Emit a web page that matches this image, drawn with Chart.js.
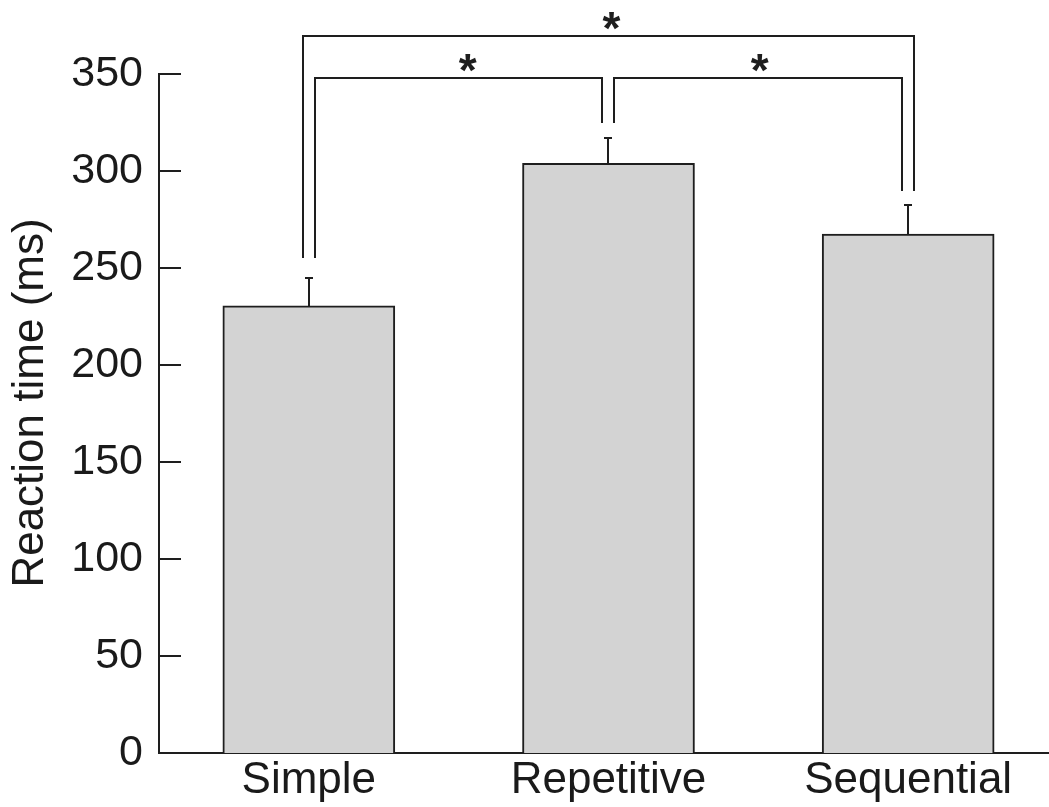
<!DOCTYPE html>
<html>
<head>
<meta charset="utf-8">
<script src="https://cdn.jsdelivr.net/npm/chart.js@4.4.1/dist/chart.umd.min.js"></script>
<style>
  html, body { margin: 0; padding: 0; background: #fff; }
  #wrap { width: 1049px; height: 807px; }
</style>
</head>
<body>
<div id="wrap"><canvas id="rt"></canvas></div>
<script>
// values
const categories = ["Simple", "Repetitive", "Sequential"];
const meanRT = [230.5, 304, 267.5];
const semRT = [14.5, 13, 15];
const yTickValues = [0, 50, 100, 150, 200, 250, 300, 350];

// significance brackets (category indices, level in ms)
const bracketFrom = [0, 1, 0];
const bracketTo = [1, 2, 2];
const bracketLevel = [348, 348, 369.5];
const bracketStarAt = [0.53, 1.505, 1.01];
const bracketLabel = ["*", "*", "*"];
const bracketFoot = [255, 324.8, 289.7];

const INK = "#1e1e1e";
const FONT = "'Liberation Sans', Arial, sans-serif";

const extras = {
  id: "extras",
  afterDraw(chart) {
    const ctx = chart.ctx;
    const x = chart.scales.x;
    const y = chart.scales.y;
    const area = chart.chartArea;
    const px = (v) => Math.round(x.getPixelForValue(v));
    const py = (v) => Math.round(y.getPixelForValue(v));
    ctx.save();
    ctx.strokeStyle = INK;
    ctx.lineWidth = 2;
    ctx.lineCap = "butt";

    // inward tick marks on the y axis
    yTickValues.forEach(v => {
      ctx.beginPath();
      ctx.moveTo(area.left, py(v));
      ctx.lineTo(area.left + 22, py(v));
      ctx.stroke();
    });

    // error bars (upper only, small cap)
    meanRT.forEach((m, i) => {
      const top = py(m + semRT[i]);
      ctx.beginPath();
      ctx.moveTo(px(i), py(m));
      ctx.lineTo(px(i), top);
      ctx.moveTo(px(i) - 4, top);
      ctx.lineTo(px(i) + 4, top);
      ctx.stroke();
    });

    // brackets and stars
    ctx.font = "bold 46px " + FONT;
    ctx.fillStyle = INK;
    bracketFrom.forEach((a, k) => {
      const b = bracketTo[k];
      const wide = b - a > 1;
      const x1 = px(a) + (wide ? -6 : 6);
      const x2 = px(b) + (wide ? 6 : -6);
      const ly = py(bracketLevel[k]);
      ctx.beginPath();
      ctx.moveTo(x1, py(bracketFoot[a]));
      ctx.lineTo(x1, ly);
      ctx.lineTo(x2, ly);
      ctx.lineTo(x2, py(bracketFoot[b]));
      ctx.stroke();

      const m = ctx.measureText(bracketLabel[k]);
      const w = m.actualBoundingBoxRight + m.actualBoundingBoxLeft;
      const h = m.actualBoundingBoxAscent + m.actualBoundingBoxDescent;
      const cx = x.getPixelForValue(bracketStarAt[k]);
      const cy = ly - 15.5;
      ctx.textAlign = "left";
      ctx.textBaseline = "alphabetic";
      ctx.fillText(bracketLabel[k], cx - w / 2 + m.actualBoundingBoxLeft, cy - h / 2 + m.actualBoundingBoxAscent);
    });

    // y axis title
    ctx.font = "44px " + FONT;
    ctx.fillStyle = "#1a1a1a";
    ctx.translate(31, 403);
    ctx.rotate(-Math.PI / 2);
    ctx.textAlign = "center";
    ctx.textBaseline = "middle";
    ctx.fillText("Reaction time (ms)", 0, 0);
    ctx.restore();
  }
};

new Chart(document.getElementById("rt"), {
  type: "bar",
  data: {
    datasets: [
      {
        label: "Reaction time",
        data: meanRT.map((v, i) => ({ x: i, y: v })),
        backgroundColor: "#d3d3d3",
        borderColor: INK,
        borderWidth: 2,
        barThickness: 172,
      },
    ],
  },
  options: {
    responsive: true,
    maintainAspectRatio: false,
    animation: false,
    layout: { padding: { top: 74, left: 0, right: 0, bottom: 0 } },
    plugins: { legend: { display: false }, tooltip: { enabled: false } },
    scales: {
      x: {
        type: "linear",
        offset: false,
        min: -0.5,
        max: 2.47,
        grid: { display: false, drawTicks: false, offset: false },
        border: { color: INK, width: 2 },
        afterBuildTicks: (s) => { s.ticks = categories.map((c, i) => ({ value: i })); },
        afterFit: (s) => { s.height = 54; },
        ticks: {
          autoSkip: false,
          maxRotation: 0,
          padding: 1,
          color: "#1a1a1a",
          font: { family: FONT, size: 44 },
          callback: (v) => categories[v],
        },
      },
      y: {
        min: 0,
        max: 350,
        grid: { display: false, drawTicks: false },
        border: { color: INK, width: 2 },
        afterBuildTicks: (s) => { s.ticks = yTickValues.map(v => ({ value: v })); },
        afterFit: (s) => { s.width = 159; },
        ticks: {
          padding: 16,
          color: "#1a1a1a",
          font: { family: FONT, size: 43 },
        },
      },
    },
  },
  plugins: [extras],
});
</script>
</body>
</html>
